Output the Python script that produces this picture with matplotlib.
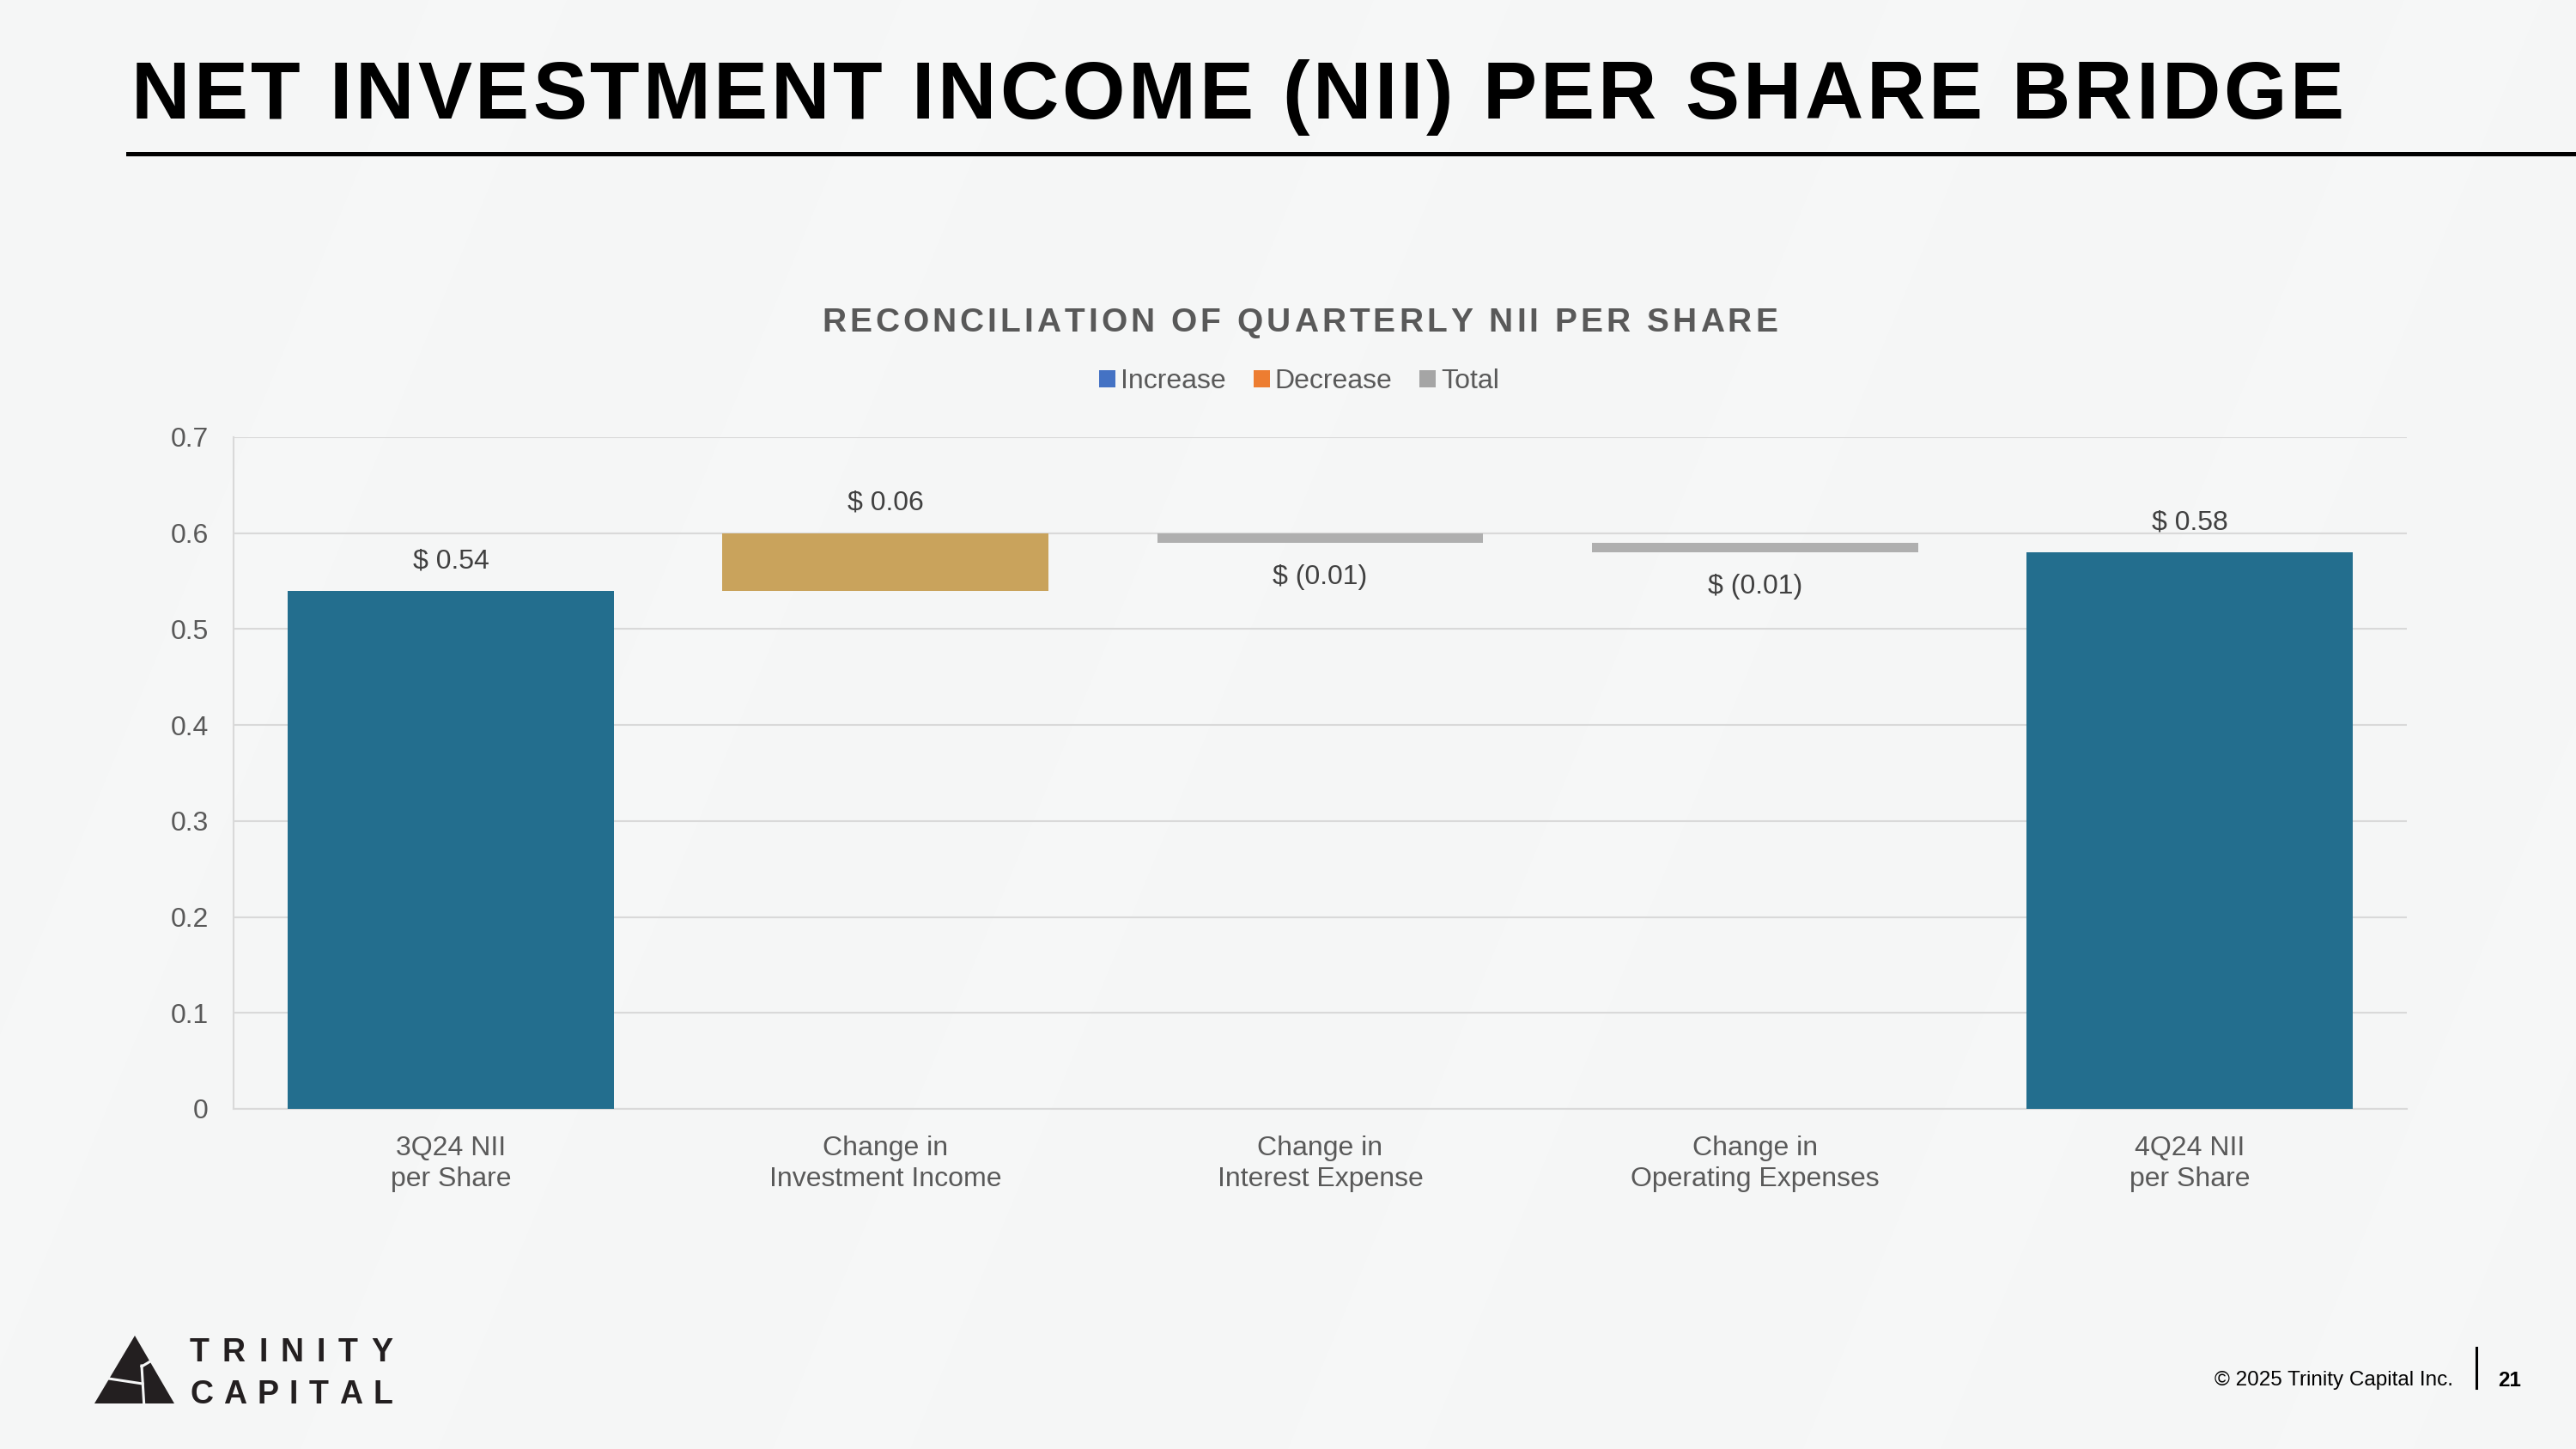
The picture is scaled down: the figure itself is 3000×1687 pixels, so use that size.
import matplotlib
matplotlib.use('Agg')
import matplotlib.pyplot as plt
from matplotlib.patches import Patch, Polygon
from matplotlib.lines import Line2D

plt.rcParams['font.family'] = ['Liberation Sans', 'DejaVu Sans']

# data
categories = ['3Q24 NII\nper Share', 'Change in\nInvestment Income', 'Change in\nInterest Expense',
              'Change in\nOperating Expenses', '4Q24 NII\nper Share']
values = [0.54, 0.06, -0.01, -0.01, 0.58]
is_total = [True, False, False, False, True]
value_labels = ['$ 0.54', '$ 0.06', '$ (0.01)', '$ (0.01)', '$ 0.58']
legend_labels = ['Increase', 'Decrease', 'Total']
legend_colors = ['#4472C4', '#ED7D31', '#A5A5A5']
yticks = [0, 0.1, 0.2, 0.3, 0.4, 0.5, 0.6, 0.7]
ytick_labels = ['0', '0.1', '0.2', '0.3', '0.4', '0.5', '0.6', '0.7']

BLUE = '#236E8E'
GOLD = '#C9A35C'
GREY = '#AFAFAF'
TXT = '#595959'
BG = '#F5F6F6'

W, H = 3000, 1687
fig = plt.figure(figsize=(W / 100, H / 100), dpi=100, facecolor=BG)
renderer = fig.canvas.get_renderer()


def fx(x):
    return x / W


def fy(y):
    return 1 - y / H


def tracked(text, x_left, y_base, width, size, **kw):
    # draw text char by char so it fills a given pixel width (letter spacing)
    widths = []
    for ch in text:
        if ch == ' ':
            widths.append(size * 100 / 72 * 0.278)
        else:
            t = fig.text(0, 0, ch, fontsize=size, **kw)
            widths.append(t.get_window_extent(renderer).width)
            t.remove()
    track = (width - sum(widths)) / (len(text) - 1)
    x = x_left
    for ch, w in zip(text, widths):
        if ch != ' ':
            fig.text(fx(x), fy(y_base), ch, fontsize=size, va='baseline', ha='left', **kw)
        x += w + track


# very faint diagonal bands in the background
for x0 in [-200, 350, 900, 1500, 2100, 2650]:
    band = Polygon([(fx(x0), 0), (fx(x0 + 160), 0), (fx(x0 + 160 + 700), 1), (fx(x0 + 700), 1)],
                   closed=True, transform=fig.transFigure, facecolor='white', alpha=0.18,
                   edgecolor='none', zorder=-10)
    fig.add_artist(band)

# slide title and rule
tracked('NET INVESTMENT INCOME (NII) PER SHARE BRIDGE', 153, 138, 2577, 68,
        weight='bold', color='black')
fig.add_artist(Line2D([fx(149), 1], [fy(179), fy(179)], color='black', lw=3.6,
                      transform=fig.transFigure))

# chart title
tracked('RECONCILIATION OF QUARTERLY NII PER SHARE', 957, 386, 1113, 28,
        weight='bold', color=TXT)

# axes
ax = fig.add_axes([fx(272), fy(1291), fx(2803) - fx(272), fy(509) - fy(1291)])
ax.set_facecolor('none')

running = 0
bottoms, heights, colors = [], [], []
for v, tot in zip(values, is_total):
    if tot:
        bottoms.append(0)
        heights.append(v)
        colors.append(BLUE)
        running = v
    else:
        if v >= 0:
            bottoms.append(running)
            colors.append(GOLD)
        else:
            bottoms.append(running + v)
            colors.append(GREY)
        heights.append(abs(v))
        running += v

xs = list(range(len(categories)))
ax.bar(xs, heights, bottom=bottoms, width=0.75, color=colors, zorder=3)

for x, v, b, h, lab in zip(xs, values, bottoms, heights, value_labels):
    if v >= 0:
        ax.annotate(lab, (x, b + h), xytext=(0, 25), textcoords='offset points',
                    ha='center', va='center', fontsize=23, color='#404040')
    else:
        ax.annotate(lab, (x, b), xytext=(0, -29), textcoords='offset points',
                    ha='center', va='center', fontsize=23, color='#404040')

ax.set_xlim(-0.5, len(categories) - 0.5)
ax.set_ylim(0, 0.7)
ax.set_yticks(yticks)
ax.set_yticklabels(ytick_labels)
ax.set_xticks(xs)
ax.set_xticklabels(categories, linespacing=1.3)
ax.tick_params(axis='y', length=0, pad=21, labelsize=23, labelcolor=TXT)
ax.tick_params(axis='x', length=0, pad=22, labelsize=23, labelcolor=TXT)
ax.grid(axis='y', color='#D9D9D9', lw=1.5, zorder=0)
for s in ['top', 'right']:
    ax.spines[s].set_visible(False)
for s in ['left', 'bottom']:
    ax.spines[s].set_color('#D9D9D9')
    ax.spines[s].set_linewidth(1.5)

# legend (default waterfall keys)
handles = [Patch(facecolor=c, edgecolor='none') for c in legend_colors]
fig.legend(handles, legend_labels, loc='center', bbox_to_anchor=(fx(1513), fy(444)), ncol=3,
           frameon=False, fontsize=23, handlelength=0.6, handleheight=0.6,
           handletextpad=0.18, columnspacing=1.0, labelcolor=TXT)

# logo
tri = Polygon([(fx(157), fy(1555)), (fx(110), fy(1634)), (fx(203), fy(1634))], closed=True,
              transform=fig.transFigure, facecolor='#231F20', edgecolor='none')
fig.add_artist(tri)
for (x1, y1), (x2, y2) in [((120, 1604), (166, 1611)), ((165, 1590), (168, 1640)),
                           ((165, 1591), (180, 1582))]:
    fig.add_artist(Line2D([fx(x1), fx(x2)], [fy(y1), fy(y2)], color=BG, lw=2.2,
                          transform=fig.transFigure))
tracked('TRINITY', 221, 1585, 236, 27, color='#231F20', weight='bold')
tracked('CAPITAL', 221, 1634, 236, 27, color='#231F20', weight='bold')

# footer
fig.text(fx(2857), fy(1607), '\u00a9 2025 Trinity Capital Inc.', ha='right', va='center',
         fontsize=17.5, color='black')
fig.add_artist(Line2D([fx(2884), fx(2884)], [fy(1569), fy(1616)], color='black', lw=2.2,
                      transform=fig.transFigure))
fig.text(fx(2923), fy(1607), '21', ha='center', va='center', fontsize=17.5, weight='bold',
         color='black')

fig.savefig('out.png', dpi=100, facecolor=fig.get_facecolor())
